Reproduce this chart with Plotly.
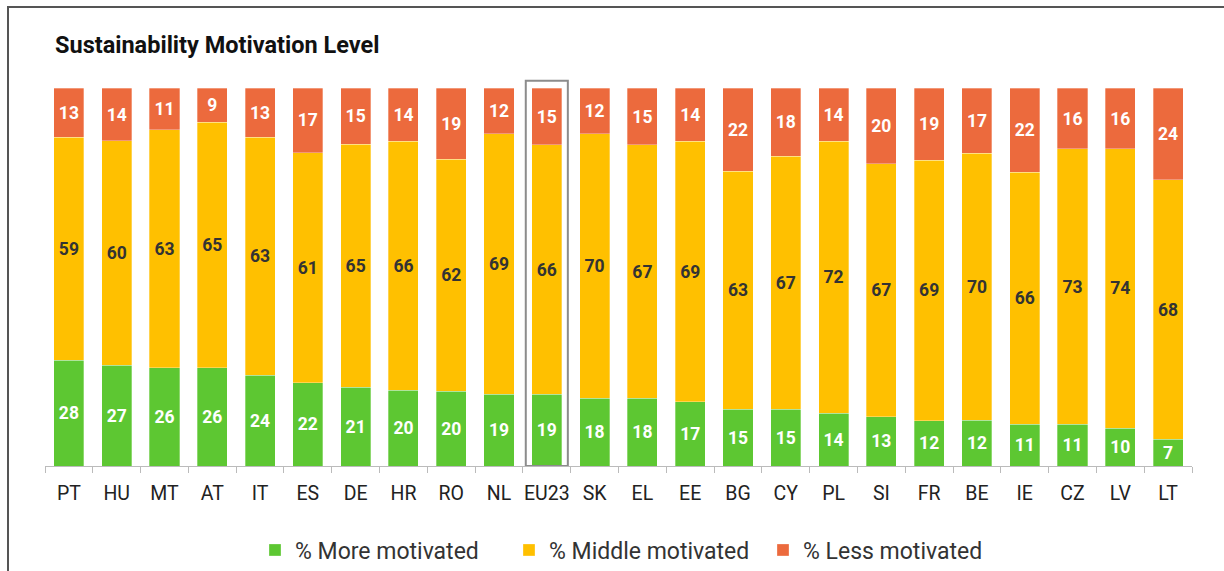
import plotly.graph_objects as go

countries = ["PT", "HU", "MT", "AT", "IT", "ES", "DE", "HR", "RO", "NL", "EU23", "SK",
             "EL", "EE", "BG", "CY", "PL", "SI", "FR", "BE", "IE", "CZ", "LV", "LT"]
more_motivated = [28, 27, 26, 26, 24, 22, 21, 20, 20, 19, 19, 18, 18, 17, 15, 15, 14, 13, 12, 12, 11, 11, 10, 7]
middle_motivated = [59, 60, 63, 65, 63, 61, 65, 66, 62, 69, 66, 70, 67, 69, 63, 67, 72, 67, 69, 70, 66, 73, 74, 68]
less_motivated = [13, 14, 11, 9, 13, 17, 15, 14, 19, 12, 15, 12, 15, 14, 22, 18, 14, 20, 19, 17, 22, 16, 16, 24]

series = [
    ("% More motivated", more_motivated, "#5DC732", "white"),
    ("% Middle motivated", middle_motivated, "#FFC000", "#333333"),
    ("% Less motivated", less_motivated, "#EC6A3D", "white"),
]

fig = go.Figure()
for name, vals, color, tcolor in series:
    fig.add_trace(go.Bar(
        x=countries, y=vals, name=name, text=vals, texttemplate="%{text}",
        textposition="inside", insidetextanchor="middle", textangle=0,
        constraintext="none",
        textfont=dict(family="Roboto", size=17.5, color=tcolor, weight="bold"),
        marker=dict(color=color, line=dict(color="rgba(255,255,255,0.6)", width=0.5)),
        hoverinfo="x+y+name",
    ))

L, R, T, B = 45, 32, 77, 105
W, H = 1224, 571
pw, ph = W - L - R, H - T - B

def px_x(p):
    return (p - L) / pw

def px_y(p):
    return (H - B - p) / ph

fig.update_layout(
    width=W, height=H,
    barmode="stack", barnorm="percent", bargap=0.37,
    margin=dict(l=L, r=R, t=T, b=B, autoexpand=False),
    paper_bgcolor="white", plot_bgcolor="white",
    font=dict(family="Roboto", color="#333333"),
    title=dict(text="<b>Sustainability Motivation Level</b>", xref="container", yref="container",
               x=55 / W, xanchor="left", y=1 - 45 / H, yanchor="middle",
               font=dict(family="Roboto", size=23.5, color="#111111"), automargin=False),
    xaxis=dict(type="category", showline=True, linecolor="#BBBBBB", linewidth=1,
               ticks="outside", tickson="boundaries", ticklen=6, tickcolor="#BBBBBB",
               tickangle=0, automargin=False, ticklabelstandoff=10,
               tickfont=dict(family="Roboto", size=19.5, color="#222222"), showgrid=False),
    yaxis=dict(range=[0, 103], visible=False, showgrid=False, automargin=False),
    legend=dict(orientation="h", x=px_x(255), xanchor="left", y=px_y(550), yanchor="middle",
                font=dict(family="Roboto", size=23, color="#333333"), traceorder="normal",
                itemwidth=30, entrywidth=209, entrywidthmode="pixels"),
    showlegend=True,
)

# highlight box around EU23
idx = countries.index("EU23")
fig.add_shape(type="rect", xref="x", yref="y", x0=idx - 0.44, x1=idx + 0.44, y0=0, y1=102,
              line=dict(color="#8C8C8C", width=2), fillcolor="rgba(0,0,0,0)", layer="above")

# outer frame
fig.add_shape(type="rect", xref="paper", yref="paper",
              x0=px_x(8), x1=px_x(1240), y0=px_y(590), y1=px_y(7),
              line=dict(color="#555555", width=2), fillcolor="rgba(0,0,0,0)")

fig.write_html("out.html", config={"displayModeBar": False},
               post_script="document.body.style.margin='0';document.body.style.overflow='hidden';")
